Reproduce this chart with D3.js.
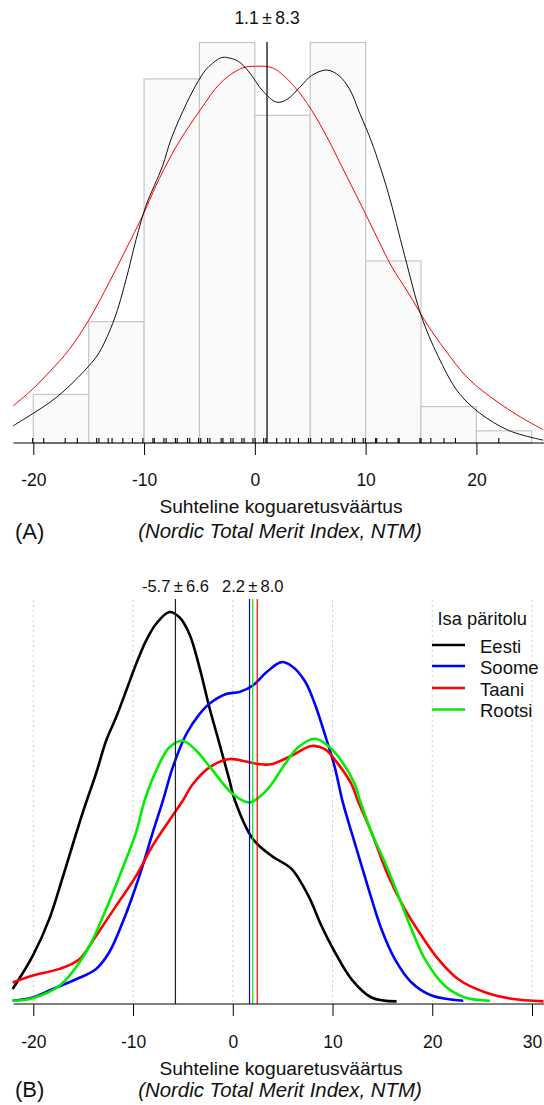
<!DOCTYPE html>
<html>
<head>
<meta charset="utf-8">
<script src="https://cdn.jsdelivr.net/npm/d3@7"></script>
<style>
  body { margin: 0; background: #fff; }
  svg text { font-family: "Liberation Sans", Arial, sans-serif; fill: #111; }
</style>
</head>
<body>
<div id="chart"></div>
<script>
// ---- data ----
// panel A: histogram of NTM
var histBreaks = [-20, -15, -10, -5, 0, 5, 10, 15, 20, 25];
var histCounts = [4, 10, 30, 33, 27, 33, 15, 3, 1];

// rug (individual bulls)
var rugValues = [-20.06, -19.06, -17.12, -16.02, -14.28, -14.08, -13.24, -12.89, -11.92, -11.05,
  -10.11, -9.2, -9.08, -8.21, -8.01, -7.17, -7.01, -6.08, -5.88, -5.08, -4.88, -4.26, -4.06,
  -3.04, -2.88, -2.17, -1.97, -1.17, -0.97, -0.17, 0.03, 0.8, 1.0, 1.97, 2.81, 3.16, 3.94,
  4.84, 5.04, 6.03, 6.87, 7.07, 7.85, 8.81, 9.01, 9.78, 9.98, 10.9, 11.0, 11.91, 12.93, 13.03,
  14.9, 15.0, 15.89, 17.08, 18.11, 22.02];

// kernel density (black) and normal curve (red), panel A
var kernelA = [[-21.84, 0.0018], [-20.05, 0.0031], [-18.5, 0.0043], [-17.04, 0.0057], [-14.94, 0.0082],
  [-14.03, 0.0096], [-12.68, 0.0131], [-11.62, 0.0173], [-10.72, 0.0215], [-9.82, 0.0251],
  [-9.07, 0.0272], [-8.32, 0.0293], [-7.56, 0.0321], [-6.16, 0.0359], [-5.07, 0.0383],
  [-4.29, 0.0396], [-3.04, 0.0407], [-2.41, 0.0407], [-1.47, 0.0403], [-0.53, 0.0392],
  [0.71, 0.0372], [1.97, 0.0360], [2.91, 0.0363], [4.16, 0.0377], [5.10, 0.0388],
  [6.51, 0.0394], [7.60, 0.0388], [8.54, 0.0374], [9.48, 0.0348], [10.54, 0.0318],
  [12.02, 0.0265], [13.52, 0.0198], [15.03, 0.0134], [16.53, 0.0092], [18.34, 0.0054],
  [20.26, 0.0032], [22.97, 0.0013], [26.04, 0.0003]];
var normalA = [[-21.84, 0.0039], [-20.05, 0.0057], [-18.55, 0.0075], [-16.74, 0.0099], [-14.94, 0.0131],
  [-13.13, 0.0170], [-11.62, 0.0205], [-10.13, 0.0240], [-8.92, 0.0272], [-7.72, 0.0300],
  [-6.8, 0.0319], [-4.92, 0.0352], [-3.04, 0.0381], [-1.16, 0.0396], [0.09, 0.0398],
  [1.65, 0.0396], [3.53, 0.0377], [5.10, 0.0352], [6.61, 0.0321], [7.81, 0.0293],
  [9.61, 0.0251], [11.12, 0.0215], [12.32, 0.0187], [13.83, 0.0159], [15.63, 0.0124],
  [17.13, 0.0099], [19.27, 0.0068], [21.95, 0.0043], [24.05, 0.0027], [26.04, 0.0014]];
var meanA = 1.1;
var labelA = "1.1\u2009\u00b1\u20098.3";

// panel B: densities by sire origin
var origins = ["Eesti", "Soome", "Taani", "Rootsi"];
var originColors = ["#000000", "#0000ff", "#ff0000", "#00ee00"];
var originMeans = [-5.75, 1.68, 2.45, 2.0];

var eesti = [[-22.07, 0.0023], [-20.06, 0.0074], [-18.39, 0.0131], [-17.05, 0.0195], [-16.05, 0.0245],
  [-14.97, 0.0298], [-13.70, 0.0355], [-12.70, 0.0405], [-11.70, 0.0441], [-10.69, 0.0482],
  [-9.69, 0.0523], [-8.69, 0.0559], [-7.68, 0.0585], [-6.35, 0.0603], [-5.35, 0.0595],
  [-4.34, 0.0569], [-3.34, 0.0518], [-2.34, 0.0456], [-1.33, 0.0400], [-0.33, 0.0344],
  [0.17, 0.0315], [2.01, 0.0254], [3.88, 0.0228], [5.89, 0.0208], [7.56, 0.0167],
  [8.90, 0.0120], [10.23, 0.0080], [11.91, 0.0038], [13.91, 0.0010], [16.42, 0.0004]];
var soome = [[-22.07, 0.0005], [-20.06, 0.0010], [-18.05, 0.0023], [-15.71, 0.0038], [-13.70, 0.0054],
  [-12.37, 0.0080], [-11.03, 0.0126], [-10.03, 0.0167], [-9.03, 0.0213], [-8.02, 0.0264],
  [-7.02, 0.0312], [-6.02, 0.0364], [-4.67, 0.0415], [-3.34, 0.0446], [-2.34, 0.0462],
  [-0.66, 0.0477], [0.67, 0.0480], [2.01, 0.0490], [3.35, 0.0510], [4.88, 0.0526],
  [5.89, 0.0520], [7.22, 0.0497], [8.22, 0.0462], [9.23, 0.0415], [10.23, 0.0364],
  [11.0, 0.0312], [11.91, 0.0264], [12.91, 0.0213], [13.91, 0.0162], [14.91, 0.0115],
  [16.25, 0.0069], [17.92, 0.0033], [19.93, 0.0013], [23.11, 0.0005]];
var taani = [[-22.07, 0.0033], [-20.06, 0.0044], [-17.38, 0.0054], [-15.38, 0.0069], [-13.70, 0.0105],
  [-11.70, 0.0151], [-9.69, 0.0197], [-8.02, 0.0244], [-6.02, 0.0290], [-5.05, 0.0312],
  [-4.01, 0.0338], [-2.34, 0.0364], [-0.33, 0.0377], [1.34, 0.0373], [2.68, 0.0369],
  [3.88, 0.0369], [5.89, 0.0382], [7.89, 0.0397], [9.23, 0.0392], [10.57, 0.0369],
  [11.91, 0.0338], [12.56, 0.0312], [13.91, 0.0264], [15.59, 0.0197], [17.25, 0.0146],
  [18.93, 0.0105], [20.60, 0.0069], [22.61, 0.0038], [25.28, 0.0018], [27.95, 0.0008],
  [31.16, 0.0004]];
var rootsi = [[-22.07, 0.0005], [-20.06, 0.0009], [-17.38, 0.0028], [-14.70, 0.0080], [-12.70, 0.0146],
  [-10.69, 0.0223], [-9.69, 0.0264], [-8.86, 0.0312], [-7.68, 0.0359], [-6.35, 0.0395],
  [-5.02, 0.0405], [-3.67, 0.0390], [-2.01, 0.0359], [0.0, 0.0323], [1.68, 0.0310],
  [3.01, 0.0323], [3.88, 0.0338], [5.22, 0.0369], [6.56, 0.0395], [8.22, 0.0408],
  [9.57, 0.0397], [10.90, 0.0374], [12.24, 0.0338], [12.71, 0.0315], [13.91, 0.0264],
  [15.25, 0.0218], [16.59, 0.0167], [17.92, 0.0115], [19.26, 0.0069], [21.26, 0.0028],
  [23.27, 0.0010], [25.78, 0.0005]];
var originSeries = [eesti, soome, taani, rootsi];
var meanLabels = [{ x: -5.75, text: "-5.7\u2009\u00b1\u20096.6" }, { x: 2.0, text: "2.2\u2009\u00b1\u20098.0" }];

var ticksA = [-20, -10, 0, 10, 20];
var ticksB = [-20, -10, 0, 10, 20, 30];

// ---- layout ----
var W = 544, H = 1105;
var svg = d3.select("#chart").append("svg").attr("width", W).attr("height", H);

var xA = d3.scaleLinear().domain([-20, 20]).range([33.3, 476.4]);
var nA = d3.sum(histCounts);
var yA = d3.scaleLinear().domain([0, 33 / (nA * 5)]).range([443, 42.5]);

var xB = d3.scaleLinear().domain([-20, 30]).range([33.3, 532]);
var yB = d3.scaleLinear().domain([0, 0.06]).range([1004, 614]);

// ---------------- panel A ----------------
var gA = svg.append("g");

// histogram bars (density scale)
gA.append("g")
  .selectAll("rect")
  .data(histCounts)
  .enter()
  .append("rect")
  .attr("x", function (d, i) { return xA(histBreaks[i]); })
  .attr("width", function (d, i) { return xA(histBreaks[i + 1]) - xA(histBreaks[i]); })
  .attr("y", function (d) { return yA(d / (nA * 5)); })
  .attr("height", function (d) { return yA(0) - yA(d / (nA * 5)); })
  .style("fill", "#fafafa")
  .style("stroke", "#c6c6c6")
  .style("stroke-width", 1.2);

var lineA = d3.line()
  .x(function (d) { return xA(d[0]); })
  .y(function (d) { return yA(d[1]); })
  .curve(d3.curveCatmullRom);

gA.append("path").datum(normalA).attr("d", lineA)
  .style("fill", "none").style("stroke", "#ff0000").style("stroke-width", 1);
gA.append("path").datum(kernelA).attr("d", lineA)
  .style("fill", "none").style("stroke", "#111").style("stroke-width", 1);

// mean line + label
gA.append("line")
  .attr("x1", xA(meanA)).attr("x2", xA(meanA))
  .attr("y1", 42).attr("y2", yA(0))
  .style("stroke", "#222").style("stroke-width", 1.4);
gA.append("text")
  .attr("x", xA(meanA)).attr("y", 23.5)
  .attr("text-anchor", "middle")
  .style("font-size", "17.5px")
  .text(labelA);

// baseline + rug
gA.append("line")
  .attr("x1", 13.5).attr("x2", W)
  .attr("y1", yA(0)).attr("y2", yA(0))
  .style("stroke", "#000").style("stroke-width", 1);
gA.append("g")
  .selectAll("line")
  .data(rugValues)
  .enter()
  .append("line")
  .attr("x1", function (d) { return xA(d); })
  .attr("x2", function (d) { return xA(d); })
  .attr("y1", yA(0) - 5)
  .attr("y2", yA(0))
  .style("stroke", "#000")
  .style("stroke-width", 1.1);

// x axis
var axA = gA.append("g")
  .attr("transform", "translate(0," + yA(0) + ")")
  .call(d3.axisBottom(xA).tickValues(ticksA).tickSize(12).tickPadding(19)
    .tickFormat(function (d) { return String(d); }));
axA.select(".domain").remove();
axA.selectAll("text").style("font-size", "17.5px").style("font-family", null);

gA.append("text").attr("x", 281).attr("y", 513).attr("text-anchor", "middle")
  .style("font-size", "19.2px").text("Suhteline koguaretusväärtus");
gA.append("text").attr("x", 280).attr("y", 538).attr("text-anchor", "middle")
  .style("font-size", "20.4px").style("font-style", "italic")
  .text("(Nordic Total Merit Index, NTM)");
gA.append("text").attr("x", 15).attr("y", 539)
  .style("font-size", "22px").text("(A)");

// ---------------- panel B ----------------
var gB = svg.append("g");

// dotted grid
gB.append("g")
  .selectAll("line")
  .data(ticksB)
  .enter()
  .append("line")
  .attr("x1", function (d) { return xB(d); })
  .attr("x2", function (d) { return xB(d); })
  .attr("y1", 600)
  .attr("y2", yB(0))
  .style("stroke", "#cfcfcf")
  .style("stroke-width", 1)
  .style("stroke-dasharray", "2,3");

var lineB = d3.line()
  .x(function (d) { return xB(d[0]); })
  .y(function (d) { return yB(d[1]); })
  .curve(d3.curveCatmullRom);

// density curves
gB.append("g")
  .selectAll("path")
  .data(originSeries)
  .enter()
  .append("path")
  .attr("d", lineB)
  .style("fill", "none")
  .style("stroke", function (d, i) { return originColors[i]; })
  .style("stroke-width", 2.6);

// mean lines
gB.append("g")
  .selectAll("line")
  .data(originMeans)
  .enter()
  .append("line")
  .attr("x1", function (d) { return xB(d); })
  .attr("x2", function (d) { return xB(d); })
  .attr("y1", 599)
  .attr("y2", yB(0))
  .style("stroke", function (d, i) { return i == 0 ? "#222" : originColors[i]; })
  .style("stroke-width", 1.2);

gB.append("g")
  .selectAll("text")
  .data(meanLabels)
  .enter()
  .append("text")
  .attr("x", function (d) { return xB(d.x); })
  .attr("y", 592)
  .attr("text-anchor", "middle")
  .style("font-size", "16.5px")
  .text(function (d) { return d.text; });

// axis
gB.append("line")
  .attr("x1", 13.5).attr("x2", W)
  .attr("y1", yB(0)).attr("y2", yB(0))
  .style("stroke", "#000").style("stroke-width", 1);
var axB = gB.append("g")
  .attr("transform", "translate(0," + yB(0) + ")")
  .call(d3.axisBottom(xB).tickValues(ticksB).tickSize(12).tickPadding(20)
    .tickFormat(function (d) { return String(d); }));
axB.select(".domain").remove();
axB.selectAll("text").style("font-size", "17.5px").style("font-family", null);

gB.append("text").attr("x", 281).attr("y", 1074.5).attr("text-anchor", "middle")
  .style("font-size", "19.2px").text("Suhteline koguaretusväärtus");
gB.append("text").attr("x", 280).attr("y", 1097).attr("text-anchor", "middle")
  .style("font-size", "20.4px").style("font-style", "italic")
  .text("(Nordic Total Merit Index, NTM)");
gB.append("text").attr("x", 15).attr("y", 1097)
  .style("font-size", "22px").text("(B)");

// legend
var legend = gB.append("g");
legend.append("text").attr("x", 437.5).attr("y", 625)
  .style("font-size", "18.3px").text("Isa päritolu");
var legRows = [645, 666, 688, 709.5];
var leg = legend.selectAll(".row")
  .data(origins)
  .enter()
  .append("g")
  .attr("class", "row")
  .attr("transform", function (d, i) { return "translate(0," + legRows[i] + ")"; });
leg.append("line")
  .attr("x1", 432).attr("x2", 465)
  .style("stroke", function (d, i) { return originColors[i]; })
  .style("stroke-width", 2.6);
leg.append("text")
  .attr("x", 480).attr("y", 7.5)
  .style("font-size", "18.5px")
  .text(function (d) { return d; });
</script>
</body>
</html>
